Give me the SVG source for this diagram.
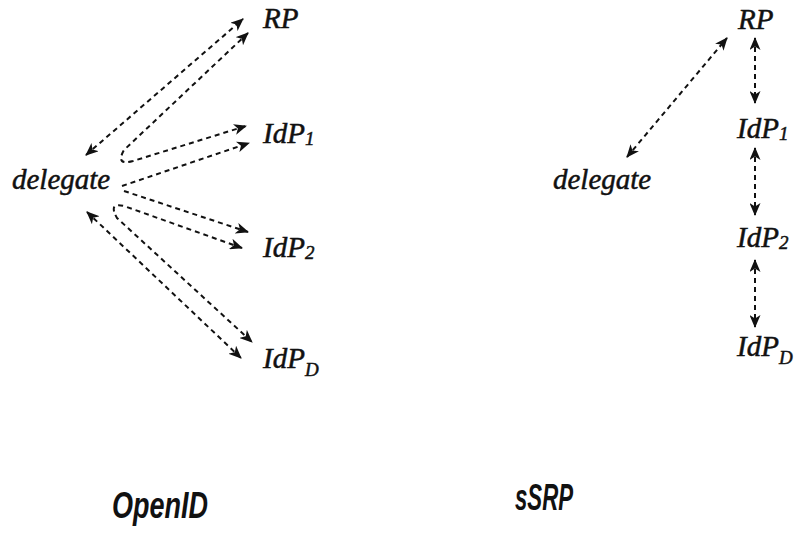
<svg xmlns="http://www.w3.org/2000/svg" width="799" height="536" viewBox="0 0 799 536">
<defs>
<style>
.lbl{font-family:"Liberation Serif","Times New Roman",serif;font-style:italic;font-size:29px;fill:#111;stroke:#111;stroke-width:0.5}
.sub{font-size:19px}
.title{font-family:"Liberation Sans",Arial,sans-serif;font-style:italic;font-weight:bold;font-size:36px;fill:#111}
.c{fill:none;stroke:#111;stroke-width:2;stroke-dasharray:5 4}
.b{marker-start:url(#ah);marker-end:url(#ah)}
.e{marker-end:url(#ah)}
</style>
<marker id="ah" viewBox="0 0 13 11" refX="12" refY="5.5" markerWidth="13" markerHeight="11" markerUnits="userSpaceOnUse" orient="auto-start-reverse">
<path d="M0,0 L13,5.5 L0,11 L3.5,5.5 z" fill="#111"/>
</marker>
</defs>
<rect width="799" height="536" fill="#fff"/>
<g id="connectors">
<path class="c b" d="M86,155 L243,19"/>
<path class="c b" d="M248,33 L124,150 Q115,166 133,161 L246,126"/>
<path class="c e" d="M122,186 L249,143"/>
<path class="c e" d="M124,191 L248,232"/>
<path class="c b" d="M242,248 L124,206 Q108,202 117,218 L252,342"/>
<path class="c b" d="M87,212 L241,358"/>
<path class="c b" d="M627,157 L727,38"/>
<path class="c b" d="M755,38 L755,103"/>
<path class="c b" d="M755,148 L755,215"/>
<path class="c b" d="M755,260 L755,327"/>
</g>
<g id="openid-delegate"><text class="lbl" x="12" y="189">delegate</text></g>
<g id="openid-rp"><text class="lbl" x="263" y="28">RP</text></g>
<g id="openid-idp1"><text class="lbl" x="263" y="143">IdP<tspan class="sub" dy="2">1</tspan></text></g>
<g id="openid-idp2"><text class="lbl" x="263" y="257">IdP<tspan class="sub" dy="2">2</tspan></text></g>
<g id="openid-idpd"><text class="lbl" x="263" y="368">IdP<tspan class="sub" dy="8">D</tspan></text></g>
<g id="ssrp-delegate"><text class="lbl" x="553" y="189">delegate</text></g>
<g id="ssrp-rp"><text class="lbl" x="738" y="29">RP</text></g>
<g id="ssrp-idp1"><text class="lbl" x="737" y="138">IdP<tspan class="sub" dy="2">1</tspan></text></g>
<g id="ssrp-idp2"><text class="lbl" x="737" y="247">IdP<tspan class="sub" dy="2">2</tspan></text></g>
<g id="ssrp-idpd"><text class="lbl" x="737" y="356">IdP<tspan class="sub" dy="8">D</tspan></text></g>
<g id="title-openid"><text class="title" x="112" y="518" textLength="96" lengthAdjust="spacingAndGlyphs">OpenID</text></g>
<g id="title-ssrp"><text class="title" x="515" y="510" textLength="58" lengthAdjust="spacingAndGlyphs">sSRP</text></g>
</svg>
